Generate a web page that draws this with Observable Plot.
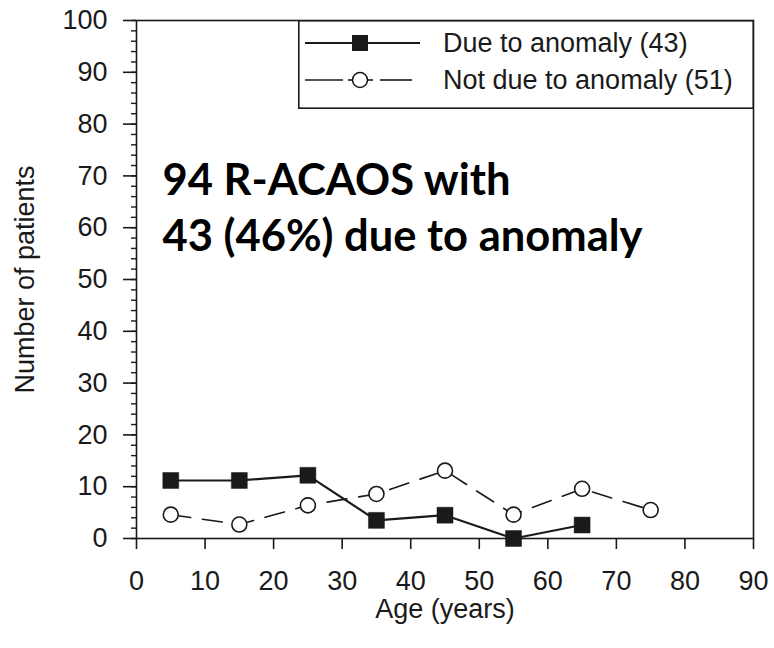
<!DOCTYPE html>
<html>
<head>
<meta charset="utf-8">
<script src="https://cdn.jsdelivr.net/npm/d3@7"></script>
<script src="https://cdn.jsdelivr.net/npm/@observablehq/plot@0.6"></script>
<style>
  html, body { margin: 0; padding: 0; background: #fff; }
  #wrap { position: relative; width: 774px; height: 648px; overflow: hidden; }
  #legend { position: absolute; left: 298px; top: 20px; }
</style>
</head>
<body>
<div id="wrap"></div>
<script>
// ---- data ----
const ageMidpoints = [5, 15, 25, 35, 45, 55, 65, 75];
const dueToAnomaly = [11.2, 11.2, 12.2, 3.5, 4.5, 0, 2.6];
const notDueToAnomaly = [4.6, 2.7, 6.4, 8.6, 13.1, 4.6, 9.6, 5.5];
const seriesNames = ["Due to anomaly (43)", "Not due to anomaly (51)"];
const xTicks = [0, 10, 20, 30, 40, 50, 60, 70, 80, 90];
const yTicks = [0, 10, 20, 30, 40, 50, 60, 70, 80, 90, 100];
const yMinorTicks = [0,2,4,6,8,10,12,14,16,18,20,22,24,26,28,30,32,34,36,38,40,42,44,46,48,50,52,54,56,58,60,62,64,66,68,70,72,74,76,78,80,82,84,86,88,90,92,94,96,98,100];
const annotationLines = ["94 R-ACAOS with", "43 (46%) due to anomaly"];
const xLabel = "Age (years)";
const yLabel = "Number of patients";

const due = dueToAnomaly.map((v, i) => ({age: ageMidpoints[i], n: v}));
const notDue = notDueToAnomaly.map((v, i) => ({age: ageMidpoints[i], n: v}));

const ink = "#1a1a1a";

const chart = Plot.plot({
  width: 774,
  height: 648,
  marginLeft: 136,
  marginRight: 21,
  marginTop: 20,
  marginBottom: 110,
  style: {fontFamily: "'Liberation Sans', Arial, sans-serif", fontSize: "27px", color: ink, background: "#fff"},
  x: {domain: [0, 90]},
  y: {domain: [0, 100]},
  marks: [
    Plot.frame({stroke: ink, strokeWidth: 1.6}),
    Plot.axisY({ticks: yMinorTicks, tickSize: 5, tickFormat: () => "", label: null, strokeWidth: 1.4}),
    Plot.axisY({ticks: yTicks, tickSize: 13, tickPadding: 16, strokeWidth: 1.6,
      label: yLabel, labelAnchor: "center", labelOffset: 122, labelArrow: "none"}),
    Plot.axisX({ticks: xTicks, tickSize: 11, tickPadding: 21, strokeWidth: 1.6,
      label: xLabel, labelAnchor: "center", labelOffset: 79, labelArrow: "none"}),
    Plot.line(notDue, {x: "age", y: "n", stroke: ink, strokeWidth: 1.6, strokeDasharray: "20,12"}),
    Plot.line(due, {x: "age", y: "n", stroke: ink, strokeWidth: 2.2}),
    Plot.dot(notDue, {x: "age", y: "n", r: 7.5, fill: "white", stroke: ink, strokeWidth: 1.6}),
    Plot.dot(due, {x: "age", y: "n", symbol: "square", r: 9, fill: ink, stroke: ink, strokeWidth: 0.5}),
    Plot.text([annotationLines.join("\n")], {
      frameAnchor: "top-left", text: d => d, textAnchor: "start", lineAnchor: "top",
      dx: 26, dy: 135, fontSize: 43.5, fontWeight: "bold", lineHeight: 1.28,
      fontFamily: "Lato, 'Open Sans', sans-serif", fill: "#000"
    })
  ]
});

const wrap = document.getElementById("wrap");
wrap.appendChild(chart);

// ---- legend (overlay box in the top-right corner of the frame) ----
const lw = 456, lh = 89;
const legend = d3.create("svg").attr("id", "legend").attr("width", lw).attr("height", lh)
  .style("font-family", "'Liberation Sans', Arial, sans-serif");
legend.append("rect").attr("x", 0.8).attr("y", 0.8).attr("width", lw - 1.6).attr("height", lh - 1.6)
  .attr("fill", "white").attr("stroke", ink).attr("stroke-width", 1.6);
const r1 = 23, r2 = 60;
// row 1: solid line + square
legend.append("line").attr("x1", 7).attr("x2", 122).attr("y1", r1).attr("y2", r1)
  .attr("stroke", ink).attr("stroke-width", 2);
legend.append("rect").attr("x", 54).attr("y", r1 - 8).attr("width", 16).attr("height", 16).attr("fill", ink);
// row 2: dashed line + hollow circle
legend.append("line").attr("x1", 7).attr("x2", 45).attr("y1", r2).attr("y2", r2)
  .attr("stroke", ink).attr("stroke-width", 1.6);
legend.append("line").attr("x1", 82).attr("x2", 114).attr("y1", r2).attr("y2", r2)
  .attr("stroke", ink).attr("stroke-width", 1.6);
legend.append("line").attr("x1", 50).attr("x2", 75).attr("y1", r2).attr("y2", r2)
  .attr("stroke", ink).attr("stroke-width", 1.6);
legend.append("circle").attr("cx", 62).attr("cy", r2).attr("r", 7.5)
  .attr("fill", "white").attr("stroke", ink).attr("stroke-width", 1.6);
legend.selectAll("text.lab").data(seriesNames).join("text")
  .attr("class", "lab")
  .attr("x", 145).attr("y", (d, i) => [r1, r2][i]).attr("dy", "0.35em")
  .attr("font-size", 27).attr("fill", ink).text(d => d);
wrap.appendChild(legend.node());
</script>
</body>
</html>
